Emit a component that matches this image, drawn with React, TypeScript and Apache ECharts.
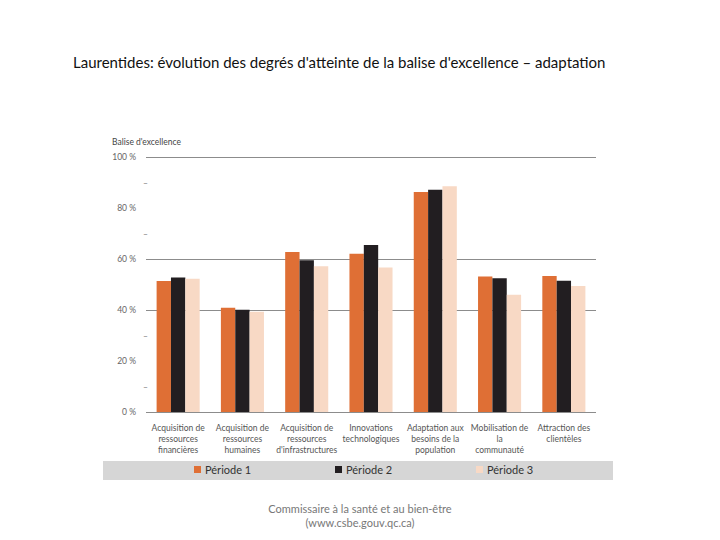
import React, { useEffect, useRef } from "react";
import * as echarts from "echarts";

const categories = [
  "Acquisition de\nressources\nfinancières",
  "Acquisition de\nressources\nhumaines",
  "Acquisition de\nressources\nd'infrastructures",
  "Innovations\ntechnologiques",
  "Adaptation aux\nbesoins de la\npopulation",
  "Mobilisation de\nla\ncommunauté",
  "Attraction des\nclientèles",
];
const periode1 = [51.4, 40.9, 62.7, 62.1, 86.3, 53.1, 53.3];
const periode2 = [52.7, 40.1, 59.5, 65.5, 87.2, 52.5, 51.5];
const periode3 = [52.3, 39.3, 57.2, 56.7, 88.5, 46.0, 49.4];
const seriesNames = ["Période 1", "Période 2", "Période 3"];
const gridValues = [0, 40, 60, 100];
const labelValues = [0, 20, 40, 60, 80, 100];
const dashValues = [10, 30, 70, 90];

const colors = ["#DF6F35", "#221E21", "#F8D9C5"];
const FONT = "Lato";

export default function App() {
  const ref = useRef<HTMLDivElement>(null);
  useEffect(() => {
    if (!ref.current) return;
    const chart = echarts.init(ref.current, null, { renderer: "svg" });
    const values = [periode1, periode2, periode3];
    const legendLefts = [194, 335, 476];
    chart.setOption({
      animation: false,
      backgroundColor: "#ffffff",
      textStyle: { fontFamily: FONT },
      title: [
        {
          text: "Laurentides: évolution des degrés d'atteinte de la balise d'excellence – adaptation",
          left: 68,
          top: 49,
          textStyle: { fontFamily: FONT, fontSize: 15, fontWeight: "normal", color: "#111111" },
        },
        {
          text: "Commissaire à la santé et au bien-être\n(www.csbe.gouv.qc.ca)",
          left: "center",
          top: 496,
          textStyle: { fontFamily: FONT, fontSize: 11, fontWeight: "normal", color: "#777777", lineHeight: 14, align: "center" },
        },
        {
          text: "Balise d'excellence",
          left: 107,
          top: 132,
          textStyle: { fontFamily: FONT, fontSize: 8.5, fontWeight: "normal", color: "#444444" },
        },
      ],
      graphic: [
        {
          type: "rect",
          shape: { x: 103, y: 461, width: 510, height: 19 },
          style: { fill: "#D6D6D6" },
          z: 0,
          silent: true,
        },
      ],
      legend: seriesNames.map((n, i) => ({
        data: [n],
        left: legendLefts[i],
        top: 464,
        itemWidth: 7,
        itemHeight: 7,
        itemGap: 4,
        icon: "rect",
        textStyle: { fontFamily: FONT, fontSize: 11, color: "#333333", padding: [0, 0, 0, -1] },
        padding: 0,
        z: 5,
      })),
      grid: { left: 146, right: 124, top: 157, bottom: 128, containLabel: false },
      xAxis: {
        type: "category",
        data: categories,
        axisLine: { show: false },
        axisTick: { show: false },
        axisLabel: {
          interval: 0,
          margin: 10,
          fontFamily: FONT,
          fontSize: 8.5,
          lineHeight: 11,
          color: "#555555",
        },
      },
      yAxis: [
        {
          type: "value",
          min: 0,
          max: 100,
          interval: 10,
          axisLine: { show: false },
          axisTick: { show: false },
          splitLine: { show: false },
          axisLabel: {
            margin: 10,
            fontFamily: FONT,
            fontSize: 8.5,
            color: "#666666",
            formatter: (v: number) => (labelValues.includes(v) ? v + " %" : ""),
          },
        },
        {
          type: "value",
          position: "left",
          min: 0,
          max: 100,
          interval: 10,
          axisLine: { show: false },
          axisTick: { show: false },
          splitLine: { show: false },
          axisLabel: {
            margin: -2,
            fontFamily: FONT,
            fontSize: 8.5,
            color: "#888888",
            formatter: (v: number) => (dashValues.includes(v) ? "–" : ""),
          },
        },
      ],
      series: values.map((d, i) => ({
        name: seriesNames[i],
        type: "bar",
        data: d,
        yAxisIndex: 0,
        barGap: "0%",
        barCategoryGap: "33%",
        itemStyle: { color: colors[i] },
        z: 2,
        ...(i === 0
          ? {
              markLine: {
                z: 1,
                silent: true,
                symbol: ["none", "none"],
                label: { show: false },
                lineStyle: { color: "#8C8C8C", width: 1, type: "solid" },
                data: gridValues.map((g) => ({ yAxis: g })),
              },
            }
          : {}),
      })),
    });
    return () => chart.dispose();
  }, []);
  return (
    <div
      ref={ref}
      style={{ position: "fixed", left: 0, top: 0, width: 720, height: 540 }}
    />
  );
}
